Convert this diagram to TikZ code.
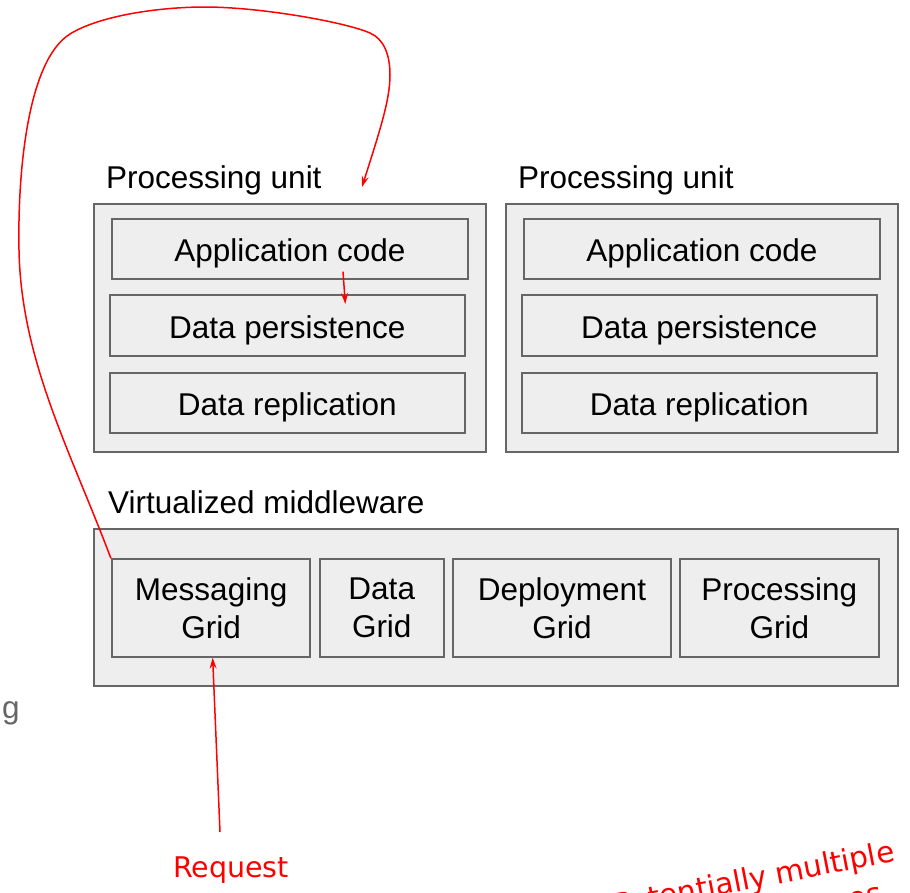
\documentclass[tikz,border=0pt]{standalone}
\usepackage{fontspec}
\setmainfont{Liberation Sans}
\newfontfamily\handfont{DejaVu Sans}
\usetikzlibrary{arrows.meta,calc}
\definecolor{boxfill}{HTML}{EEEEEE}
\definecolor{boxline}{HTML}{666666}
\definecolor{notered}{HTML}{FF0000}
\definecolor{greytext}{HTML}{666666}
\begin{document}
\begin{tikzpicture}[x=1pt,y=-1pt,
  box/.style={draw=boxline, fill=boxfill, line width=2pt, anchor=north west,
    inner sep=0pt, align=center, font=\fontsize{31.5}{37.8}\selectfont},
  rowbox/.style={box, text height=25.2pt, text depth=0pt},
  caption/.style={anchor=base west, inner sep=0pt, font=\fontsize{31.5}{37.8}\selectfont},
  note/.style={text=notered, inner sep=0pt, font=\handfont\fontsize{28.5}{34}\selectfont},
  slanted note/.style={note, font=\handfont\fontsize{29.5}{35}\selectfont, anchor=base east, rotate=11},
  redarrow/.style={draw=notered, line width=1.5pt,
    -{Stealth[length=11pt,width=7pt,inset=4pt]}}
]
\useasboundingbox (0,0) rectangle (910,892);

% processing units
\node[caption] (pu1lbl) at (106,188) {Processing unit};
\node[box, minimum width=392pt, minimum height=248pt] (pu1) at (93,203) {};
\node[rowbox, minimum width=355.7pt, minimum height=60pt] (app1) at (111,217.7) {Application code};
\node[rowbox, minimum width=355.3pt, minimum height=61pt] (per1) at (108.7,294) {Data persistence};
\node[rowbox, minimum width=355.3pt, minimum height=60.3pt] (rep1) at (108.7,371.7) {Data replication};

\node[caption] (pu2lbl) at (518,188) {Processing unit};
\node[box, minimum width=392pt, minimum height=248pt] (pu2) at (505,203) {};
\node[rowbox, minimum width=355.7pt, minimum height=60pt] (app2) at (523,217.7) {Application code};
\node[rowbox, minimum width=355.3pt, minimum height=61pt] (per2) at (520.7,294) {Data persistence};
\node[rowbox, minimum width=355.3pt, minimum height=60.3pt] (rep2) at (520.7,371.7) {Data replication};

% middleware
\node[caption] (mwlbl) at (108,513) {Virtualized middleware};
\node[box, minimum width=804.4pt, minimum height=157pt] (mw) at (92.6,528.3) {};
\node[box, minimum width=198.5pt, minimum height=97.4pt] (mg) at (110.9,558.3) {Messaging\\Grid};
\node[box, minimum width=123.9pt, minimum height=97.4pt] (dg) at (318.8,558.3) {Data\\Grid};
\node[box, minimum width=218pt, minimum height=97.4pt] (deg) at (452,558.3) {Deployment\\Grid};
\node[box, minimum width=199.1pt, minimum height=97.4pt] (pg) at (678.8,558.3) {Processing\\Grid};

% clipped letter at the left edge
\node[caption, text=greytext] (gl) at (2,718) {g};

% red annotations
\node[note, anchor=base] (req) at (231,877) {Request};
\node[slanted note] (multi) at (896,861) {Potentially multiple};
\node[slanted note] (multi2) at (884,903) {instances};

\coordinate (reqtail) at (220,832);
\draw[redarrow] (reqtail) -- ($(mg.south)+(1.5,0)$);

\coordinate (s1) at ($(app1.south west)+(232,-8)$);
\coordinate (e1) at ($(per1.north west)+(236.6,10)$);
\draw[redarrow] (s1) -- (e1);

\coordinate (loopend) at (362,187);
\draw[redarrow] (mg.north west)
  .. controls (70,450) and (21,360) .. (19,250)
  .. controls (17.5,170) and (28,60) .. (70,34)
  .. controls (100,15.4) and (160,7) .. (205,7)
  .. controls (260,7) and (345,22) .. (370,33)
  .. controls (384,39) and (390,55) .. (390,75)
  .. controls (390,100) and (380,130) .. (loopend);
\end{tikzpicture}
\end{document}
